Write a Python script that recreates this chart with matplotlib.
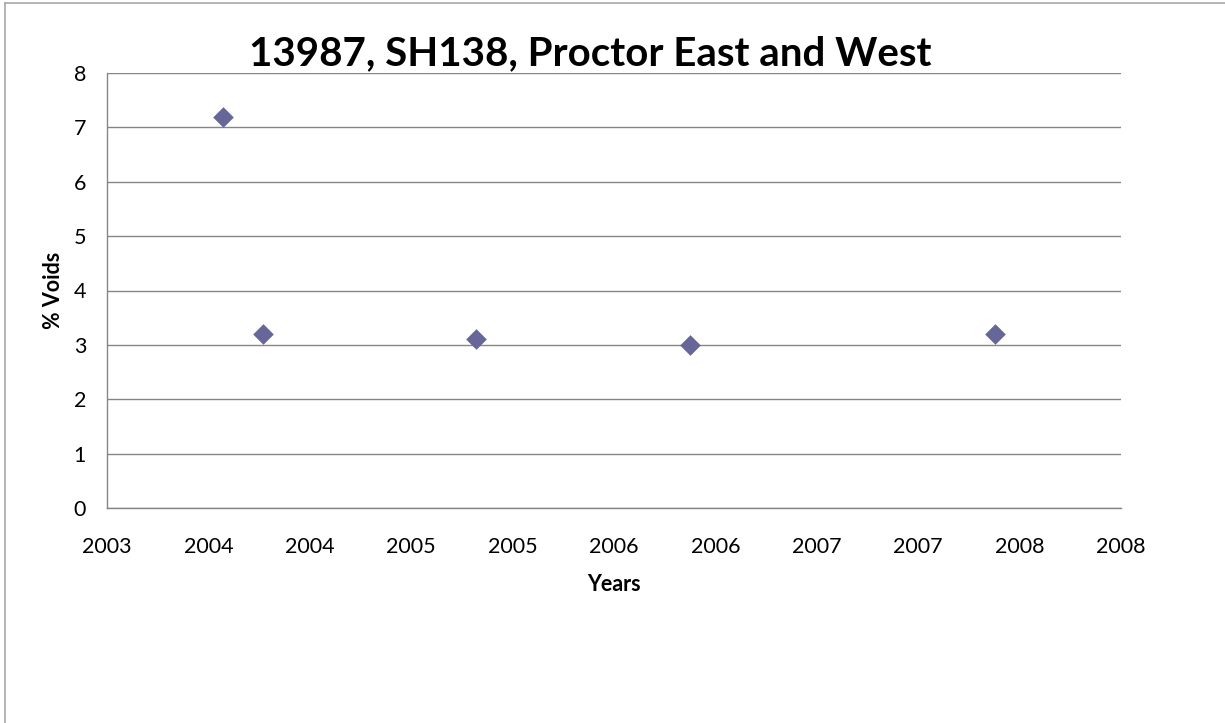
import matplotlib
matplotlib.use("Agg")
import matplotlib.pyplot as plt
import matplotlib.dates as mdates
import pandas as pd
from matplotlib.lines import Line2D

# ---- data ----
dates = ["2004-02-11", "2004-05-01", "2005-06-24", "2006-08-21", "2008-04-13"]
voids = [7.2, 3.2, 3.1, 3.0, 3.2]
title = "13987, SH138, Proctor East and West"
xlabel = "Years"
ylabel = "% Voids"
# Excel-style date axis (serial numbers): min, max, major unit
x_min_serial, x_max_serial, x_step = 37800, 39800, 200
y_min, y_max, y_step = 0, 8, 1

plt.rcParams['font.family'] = ['Lato', 'DejaVu Sans']

excel_epoch = pd.Timestamp("1899-12-30")
def serial_to_date(s):
    return excel_epoch + pd.Timedelta(days=s)

x = pd.to_datetime(dates)
fig = plt.figure(figsize=(12.25, 7.23), dpi=100)
W, H = 1225, 723
L, R, T, B = 107, 1121, 73, 508
ax = fig.add_axes([L / W, 1 - B / H, (R - L) / W, (B - T) / H])

grid_c = "#868686"
ax.scatter(x, voids, marker="D", s=10.5 ** 2, color="#666699", zorder=3, linewidths=0)

ax.set_xlim(serial_to_date(x_min_serial), serial_to_date(x_max_serial))
ticks = [serial_to_date(s) for s in range(x_min_serial, x_max_serial + 1, x_step)]
ax.set_xticks(ticks)
ax.xaxis.set_major_formatter(mdates.DateFormatter("%Y"))
ax.set_ylim(y_min, y_max)
ax.set_yticks(range(y_min, y_max + 1, y_step))

ax.yaxis.grid(True, color=grid_c, linewidth=1)
ax.set_axisbelow(True)
for s in ["top", "right"]:
    ax.spines[s].set_visible(False)
for s in ["left", "bottom"]:
    ax.spines[s].set_color(grid_c)
    ax.spines[s].set_linewidth(1)
ax.tick_params(axis="both", length=0, labelsize=15.5, colors="black")
ax.tick_params(axis="x", pad=21)
ax.tick_params(axis="y", pad=15)

ax.set_xlabel(xlabel, fontsize=15.5, fontweight="bold", labelpad=12)
ax.set_ylabel(ylabel, fontsize=15.5, fontweight="bold", labelpad=7)

fig.text(590 / W, 1 - 54 / H, title, fontsize=29, fontweight="bold",
         ha="center", va="center")

# chart area border (left and top visible)
fig.add_artist(Line2D([5 / W, 5 / W], [0, 1 - 3 / H], color="#a8a8a8", linewidth=1.2,
                      transform=fig.transFigure))
fig.add_artist(Line2D([5 / W, 1], [1 - 3 / H, 1 - 3 / H], color="#a8a8a8", linewidth=1.2,
                      transform=fig.transFigure))

fig.savefig("out.png", dpi=100)
